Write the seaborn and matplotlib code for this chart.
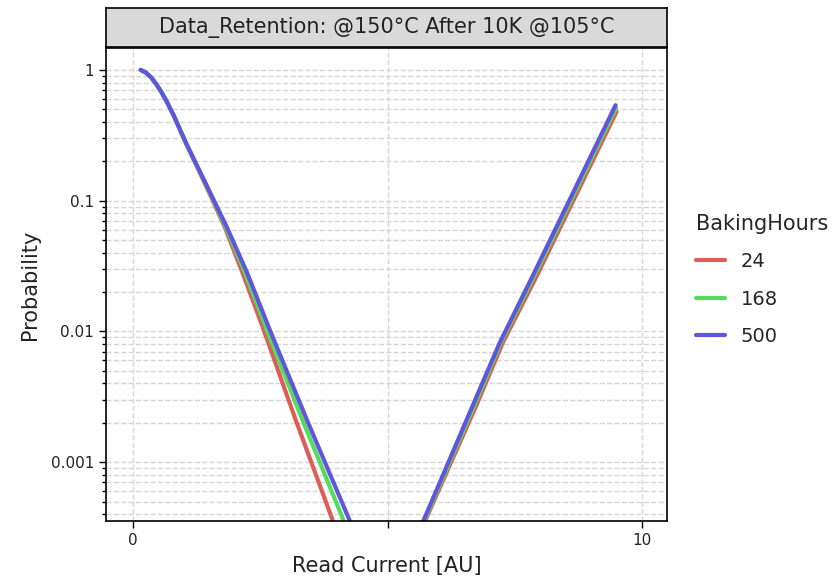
import matplotlib
matplotlib.use("Agg")
import matplotlib.pyplot as plt
import matplotlib.ticker as mticker
import numpy as np
import pandas as pd
import seaborn as sns

# Values (x = read current, p = probability)
baking_hours = ["24", "168", "500"]

low_x_24 = [0.15, 0.25, 0.35, 0.45, 0.55, 0.66, 0.80, 1.05, 1.45, 1.80, 2.15, 2.54, 3.18, 3.90, 3.97]
low_p_24 = [1.0, 0.955, 0.881, 0.785, 0.684, 0.575, 0.447, 0.269, 0.126, 0.0631, 0.0282, 0.011, 0.00219, 0.00038, 0.000316]
low_x_168 = [0.15, 0.25, 0.35, 0.45, 0.55, 0.66, 0.80, 1.05, 1.45, 1.82, 2.20, 2.62, 3.31, 4.11, 4.18]
low_p_168 = [1.0, 0.955, 0.881, 0.785, 0.684, 0.575, 0.447, 0.269, 0.129, 0.0631, 0.0282, 0.0105, 0.00219, 0.00038, 0.000316]
low_x_500 = [0.15, 0.25, 0.35, 0.45, 0.55, 0.66, 0.80, 1.05, 1.45, 1.84, 2.24, 2.69, 3.42, 4.25, 4.33]
low_p_500 = [1.0, 0.955, 0.881, 0.785, 0.684, 0.575, 0.447, 0.272, 0.130, 0.0631, 0.0282, 0.0102, 0.00209, 0.000363, 0.000309]

high_x_24 = [5.68, 5.76, 6.74, 7.26, 7.90, 9.50]
high_p_24 = [0.000316, 0.000372, 0.00269, 0.00813, 0.0251, 0.479]
high_x_168 = [5.66, 5.74, 6.70, 7.22, 7.85, 9.49]
high_p_168 = [0.000316, 0.000372, 0.00269, 0.00813, 0.0251, 0.513]
high_x_500 = [5.64, 5.725, 6.67, 7.20, 7.82, 9.48]
high_p_500 = [0.000316, 0.000372, 0.00269, 0.00813, 0.0251, 0.537]

x_ticks = [0, 5, 10]
x_tick_labels = ["0", "", "10"]
y_ticks = [1, 0.1, 0.01, 0.001]
y_tick_labels = ["1", "0.1", "0.01", "0.001"]


def build_frame():
    rows = []
    branches = {
        "24": [(low_x_24, low_p_24), (high_x_24, high_p_24)],
        "168": [(low_x_168, low_p_168), (high_x_168, high_p_168)],
        "500": [(low_x_500, low_p_500), (high_x_500, high_p_500)],
    }
    for hours in baking_hours:
        for b, (xs, ps) in enumerate(branches[hours]):
            for x, p in zip(xs, ps):
                rows.append({"ReadCurrent": x, "Probability": p,
                             "BakingHours": hours, "branch": b})
    return pd.DataFrame(rows)


df = build_frame()

sns.set_style("white")
plt.rcParams["font.family"] = ["DejaVu Sans"]

fig = plt.figure(figsize=(8.33, 5.77), dpi=100)
ax = fig.add_axes([0.1273, 0.097, 0.6734, 0.8198])

palette = sns.color_palette("hls", 3)
sns.lineplot(data=df, x="ReadCurrent", y="Probability", hue="BakingHours",
             hue_order=baking_hours, units="branch", estimator=None,
             palette=palette, linewidth=3, sort=False, ax=ax)

ax.set_yscale("log")
ax.set_xlim(-0.53, 10.49)
ax.set_ylim(3.55e-4, 1.47)
ax.set_xticks(x_ticks)
ax.set_xticklabels(x_tick_labels)
ax.set_yticks(y_ticks)
ax.set_yticklabels(y_tick_labels)
ax.yaxis.set_minor_locator(mticker.LogLocator(base=10, subs=np.arange(2, 10)))
ax.yaxis.set_minor_formatter(mticker.NullFormatter())

ax.tick_params(axis="both", which="major", labelsize=11, length=5, width=1,
               left=True, bottom=True, color="black", labelcolor="#222222")
ax.tick_params(axis="y", which="minor", length=3, width=1, left=True, color="black")

ax.grid(True, which="major", axis="both", linestyle="--", color="#d6d6d6", linewidth=1)
ax.grid(True, which="minor", axis="y", linestyle="--", color="#d6d6d6", linewidth=1)

for sp in ax.spines.values():
    sp.set_color("black")
    sp.set_linewidth(1.2)

ax.set_xlabel("Read Current [AU]", fontsize=15, color="#222222", labelpad=6)
ax.set_ylabel("Probability", fontsize=15, color="#222222", labelpad=8)

# facet strip on top
strip = fig.add_axes([0.1273, 0.9185, 0.6734, 0.0676])
strip.set_facecolor("#d9d9d9")
strip.set_xticks([])
strip.set_yticks([])
for sp in strip.spines.values():
    sp.set_color("black")
    sp.set_linewidth(1.2)
strip.text(0.5, 0.5, "Data_Retention: @150°C After 10K @105°C", color="#222222",
           ha="center", va="center", fontsize=15, transform=strip.transAxes)

leg = ax.legend(title="BakingHours", loc="center left",
                bbox_to_anchor=(1.02, 0.51), frameon=False,
                fontsize=14, title_fontsize=15, handlelength=1.5,
                labelspacing=0.95, handletextpad=0.8)
leg._legend_box.align = "left"

fig.savefig("out.png", dpi=100)
